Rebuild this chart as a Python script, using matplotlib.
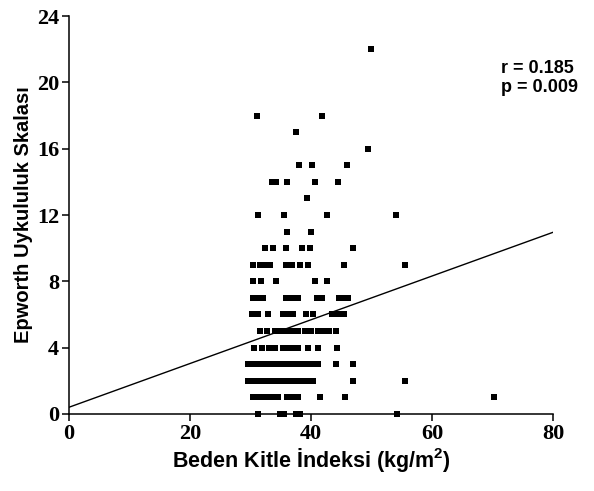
import matplotlib.pyplot as plt

# Epworth score rows and the BMI values read for each row
ess_levels = [22, 18, 17, 16, 15, 14, 13, 12, 11, 10, 9, 8, 7, 6, 5, 4, 3, 2, 1, 0]
bmi_rows = [
    [49.9],
    [31.1, 41.9],
    [37.5],
    [49.5],
    [38.1, 40.1, 45.9],
    [33.6, 34.3, 36.1, 40.6, 44.4],
    [39.3],
    [31.2, 35.6, 42.7, 54.0],
    [36.0, 40.0],
    [32.4, 33.8, 35.8, 38.5, 39.9, 47.0],
    [30.4, 31.5, 32.3, 33.2, 35.8, 36.9, 38.2, 39.5, 45.5, 55.5],
    [30.4, 31.8, 34.3, 40.7, 42.6],
    [30.4, 31.1, 32.0, 35.8, 36.8, 37.8, 41.0, 41.9, 44.6, 45.5, 46.2],
    [30.3, 31.3, 32.9, 35.4, 36.2, 37.0, 39.2, 40.3, 43.4, 44.5, 45.5],
    [31.6, 32.7, 34.0, 35.0, 36.0, 37.0, 37.9, 39.0, 40.0, 41.1, 42.0, 43.0, 44.2],
    [30.6, 31.9, 33.0, 34.1, 35.3, 36.2, 37.1, 37.9, 39.5, 41.2, 44.3],
    [29.6, 30.4, 31.2, 32.1, 32.9, 33.7, 34.5, 35.4, 36.2, 37.0, 37.9, 38.7,
     39.5, 40.3, 41.2, 44.2, 47.0],
    [29.6, 30.4, 31.2, 32.1, 32.9, 33.7, 34.5, 35.4, 36.2, 37.0, 37.9, 38.7,
     39.5, 40.3, 47.0, 55.5],
    [30.4, 31.2, 32.1, 32.9, 33.7, 34.5, 36.0, 36.9, 37.9, 41.5, 45.6, 70.2],
    [31.3, 34.9, 35.6, 37.5, 38.2, 54.2],
]

# regression line (intercept, slope) and stats
line_x = [0, 80]
intercept = 0.4
slope = 0.132
r_text = "r = 0.185"
p_text = "p = 0.009"

bmi = []
ess = []
for level, row in zip(ess_levels, bmi_rows):
    bmi += row
    ess += [level] * len(row)

plt.rcParams['mathtext.fontset'] = 'custom'
plt.rcParams['mathtext.bf'] = 'Liberation Sans:bold'

fig = plt.figure(figsize=(5.94, 4.91), dpi=100)
ax = fig.add_axes([0.116, 0.157, 0.815, 0.81])

ax.scatter(bmi, ess, marker='s', s=18, color='black', linewidths=0, clip_on=False, zorder=3)
ax.plot(line_x, [intercept + slope * x for x in line_x], color='black', linewidth=1)

ax.set_xlim(0, 80)
ax.set_ylim(0, 24)
ax.set_xticks([0, 20, 40, 60, 80])
ax.set_yticks([0, 4, 8, 12, 16, 20, 24])
for s in ['top', 'right']:
    ax.spines[s].set_visible(False)
for s in ['left', 'bottom']:
    ax.spines[s].set_linewidth(1.1)
ax.tick_params(direction='out', length=5, width=1.1, pad=2)
for lab in ax.get_xticklabels() + ax.get_yticklabels():
    lab.set_fontfamily('Liberation Serif')
    lab.set_fontweight('bold')
    lab.set_fontsize(16)

ax.set_xlabel(r'Beden Kitle İndeksi (kg/m$\mathbf{^2}$)', fontfamily='Liberation Sans',
              fontweight='bold', fontsize=15.5, labelpad=2)
ax.set_ylabel('Epworth Uykululuk Skalası', fontfamily='Liberation Sans',
              fontweight='bold', fontsize=14.5, labelpad=3)

ax.text(71.4, 21.35, r_text + "\n" + p_text, fontfamily='Liberation Sans',
        fontweight='bold', fontsize=13, ha='left', va='top', linespacing=1.15)

fig.savefig('out.png', dpi=100)
